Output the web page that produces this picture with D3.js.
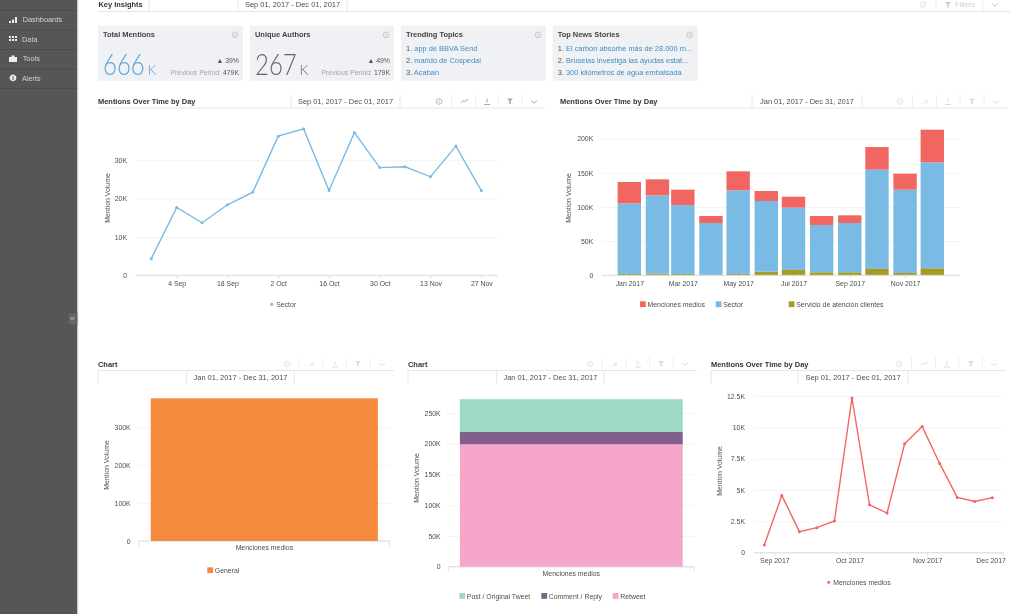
<!DOCTYPE html>
<html>
<head>
<meta charset="utf-8">
<script src="https://cdn.jsdelivr.net/npm/d3@7"></script>
<style>
  body { margin: 0; background: #fff; overflow: hidden; }
  text { font-family: "Liberation Sans", Arial, sans-serif; }
  #page { filter: blur(0.3px); }
</style>
</head>
<body>
<svg id="page" width="1024" height="614"></svg>
<script>
// chart values
var weeks = ['2017-08-28','2017-09-04','2017-09-11','2017-09-18','2017-09-25','2017-10-02','2017-10-09',
  '2017-10-16','2017-10-23','2017-10-30','2017-11-06','2017-11-13','2017-11-20','2017-11-27'];
var sectorWeekly = [4350,17700,13700,18400,21700,36300,38200,22100,37200,28100,28300,25700,33700,22100];
var mediosWeekly = [610,4570,1680,2000,2530,12340,3820,3160,8690,10070,7120,4410,4090,4390];

var months = ['2017-01-01','2017-02-01','2017-03-01','2017-04-01','2017-05-01','2017-06-01',
  '2017-07-01','2017-08-01','2017-09-01','2017-10-01','2017-11-01','2017-12-01'];
var servicioMonthly = [2000,2400,2000,500,2000,5400,7800,4400,4400,9300,3400,10200];
var sectorMonthly = [103400,114600,100900,76100,122400,103400,91200,69300,72200,145300,122000,155200];
var mediosMonthly = [31200,23500,22500,10200,27800,14600,16100,13100,11200,33200,23400,47800];

var generalTotal = [376500];
var retweetTotal = [199000];
var commentTotal = [20600];
var postTotal = [52800];

var sectorWeekTicks = ['2017-09-04','2017-09-18','2017-10-02','2017-10-16','2017-10-30','2017-11-13','2017-11-27'];
var monthTicks = ['2017-01-01','2017-03-01','2017-05-01','2017-07-01','2017-09-01','2017-11-01'];
var mediosMonthTicks = ['2017-09-01','2017-10-01','2017-11-01','2017-12-01'];

var navItems = ['Dashboards','Data','Tools','Alerts'];
var trendingTopics = ['app de BBVA Send','marido de Cospedal','Acaban'];
var newsStories = ['El carbón absorbe más de 28.000 m...','Bruselas investiga las ayudas estat...','300 kilómetros de agua embalsada'];

var BLUE = '#7abbe5', RED = '#f26662', OLIVE = '#a89a1c', ORANGE = '#f58a3f',
    MINT = '#9ed8c6', PURPLE = '#82608c', PINK = '#f5a6c9';
var INK = '#4d4d4d', GRID = '#f3f4f7', AXIS = '#d5dfea', RULE = '#e6e6e6';
var HEAD = 7.45, TICK = 6.9;

var parseDay = d3.timeParse('%Y-%m-%d');
var page = d3.select('#page');

function kLabel(d) { return d === 0 ? '0' : (d / 1000) + 'K'; }

function label(parent, x, y, str, size, fill, anchor, weight) {
  return parent.append('text').attr('x', x).attr('y', y).text(str)
    .attr('font-size', size).attr('fill', fill)
    .attr('text-anchor', anchor || 'start')
    .attr('font-weight', weight || 'normal')
    .attr('dominant-baseline', 'central');
}

function helpIcon(x, y, col) {
  page.append('circle').attr('cx', x).attr('cy', y).attr('r', 2.8)
    .attr('fill', 'none').attr('stroke', col || '#bbb').attr('stroke-width', 0.8);
  page.append('rect').attr('x', x - 0.5).attr('y', y - 0.8).attr('width', 1).attr('height', 2).attr('fill', col || '#bbb');
}

// ---- sidebar
page.append('rect').attr('width', 77).attr('height', 614).attr('fill', '#565656');
page.append('rect').attr('x', 77).attr('width', 1.2).attr('height', 614).attr('fill', '#c9c9c9');
d3.range(5).forEach(function (i) {
  page.append('rect').attr('x', 0).attr('y', 10.2 + i * 19.5).attr('width', 77).attr('height', 0.8).attr('fill', '#494949');
});
var navIcons = [
  'M9 21h2v2h-2zM12 19.5h2v3.5h-2zM15 17h2v6h-2z',
  'M9 36h2v2h-2zM12 36h2v2h-2zM15 36h2v2h-2zM9 39h2v2h-2zM12 39h2v2h-2zM15 39h2v2h-2z',
  'M9 57h8v5h-8zM11.5 55.5h3v1.5h-3z',
  'M13 74.5a3.4 3.4 0 1 0 0.01 0z'
];
navItems.forEach(function (name, i) {
  var y = 19.8 + i * 19.5;
  label(page, i % 2 ? 22 : 22.7, y, name, 7.35, '#d2d2d2');
  page.append('path').attr('d', navIcons[i]).attr('fill', '#eee');
});
page.append('rect').attr('x', 12.5).attr('y', 76).attr('width', 1).attr('height', 4).attr('fill', '#565656');
page.append('rect').attr('x', 68).attr('y', 313).attr('width', 9).attr('height', 12).attr('fill', '#666').attr('stroke', '#4c4c4c').attr('stroke-width', 0.6);
label(page, 72.5, 318.5, '«', 8, '#bbb', 'middle');

// ---- top bar
label(page, 98.5, 4.6, 'Key Insights', HEAD, '#333', 'start', 'bold');
label(page, 245, 4.6, 'Sep 01, 2017 - Dec 01, 2017', HEAD, INK);
page.append('line').attr('x1', 98).attr('x2', 1010).attr('y1', 11.5).attr('y2', 11.5).attr('stroke', RULE);
[149, 238, 347].forEach(function (x) {
  page.append('line').attr('x1', x).attr('x2', x).attr('y1', 0).attr('y2', 11.5).attr('stroke', RULE);
});
helpIcon(923, 4.6, '#ddd');
label(page, 955, 4.6, 'Filters', HEAD, '#ccc');
[936, 983].forEach(function (x) {
  page.append('line').attr('x1', x).attr('x2', x).attr('y1', 0).attr('y2', 11).attr('stroke', '#eee');
});
page.append('path').attr('d', 'M945 2h6l-2.2 2.6v3h-1.6v-3z').attr('fill', '#ccc');
page.append('path').attr('d', 'M992 3.5l3 2.5l3-2.5').attr('fill', 'none').attr('stroke', '#ccc');

// ---- insight cards
function card(x, w, title) {
  page.append('rect').attr('x', x).attr('y', 25.7).attr('width', w).attr('height', 55).attr('fill', '#f0f1f4');
  label(page, x + 5, 34.5, title, HEAD, '#444', 'start', 'bold');
  helpIcon(x + w - 8, 34.8);
}
function statCard(x, w, title, big, col, pct, prev) {
  card(x, w, title);
  var right = x + w - 4;
  // the big figure is narrower than any installed light face, so squeeze it sideways
  page.append('text').attr('transform', 'translate(' + (x + 5) + ',75) scale(0.8,1)').text(big)
    .attr('font-size', 30).attr('font-weight', 300).attr('fill', col).style('font-family', 'Lato');
  page.append('text').attr('x', x + 49.5).attr('y', 75).text('K')
    .attr('font-size', 14).attr('font-weight', 300).attr('fill', col).style('font-family', 'Lato');
  label(page, right, 60.5, '▲ ' + pct, 6.9, '#555', 'end');
  var t = label(page, right, 72, '', 6.9, '#a5a5a5', 'end');
  t.append('tspan').text('Previous Period: ');
  t.append('tspan').attr('fill', '#555').text(prev);
}
function listCard(x, w, title, items) {
  card(x, w, title);
  items.forEach(function (s, i) {
    var t = label(page, x + 5, 47.7 + i * 12, '', HEAD, '#555');
    t.append('tspan').text((i + 1) + '. ');
    t.append('tspan').attr('fill', '#3d8fc4').text(s);
  });
}
statCard(98, 145, 'Total Mentions', '666', '#5ba4d6', '39%', '479K');
statCard(250, 144, 'Unique Authors', '267', '#666', '49%', '179K');
listCard(401, 145, 'Trending Topics', trendingTopics);
listCard(552.7, 145, 'Top News Stories', newsStories);

// ---- panel headers
function panelHeader(opts) {
  var lineY = opts.y + 6.5;
  label(page, opts.x0, opts.y, opts.title, HEAD, '#333', 'start', 'bold');
  page.append('line').attr('x1', opts.x0).attr('x2', opts.x1).attr('y1', lineY).attr('y2', lineY).attr('stroke', RULE);
  var dy = opts.stacked ? 13 : 0;
  var top = opts.stacked ? lineY : opts.y - 7;
  var bot = opts.stacked ? lineY + 13 : lineY;
  [opts.d0, opts.d1].concat(opts.stacked ? [opts.x0] : []).forEach(function (x) {
    page.append('line').attr('x1', x).attr('x2', x).attr('y1', top).attr('y2', bot).attr('stroke', RULE);
  });
  label(page, (opts.d0 + opts.d1) / 2, opts.y + dy, opts.range, HEAD, INK, 'middle');
  var col = opts.faint ? '#ddd' : '#aaa';
  var ic = opts.icons;
  helpIcon(ic[0], opts.y, col);
  page.append('path').attr('fill', 'none').attr('stroke', col)
    .attr('d', opts.lineIcon ? 'M' + (ic[1] - 3.5) + ' ' + (opts.y + 1.5) + 'l2.5 -2.5l2 1l3 -2.5' : 'M' + (ic[1] - 3) + ' ' + (opts.y + 2) + 'h1M' + ic[1] + ' ' + (opts.y + 2) + 'v-3M' + (ic[1] + 2) + ' ' + (opts.y + 2) + 'v-4');
  page.append('path').attr('fill', 'none').attr('stroke', col)
    .attr('d', 'M' + ic[2] + ' ' + (opts.y - 3) + 'v4M' + (ic[2] - 3) + ' ' + (opts.y + 3) + 'h6');
  page.append('path').attr('fill', col)
    .attr('d', 'M' + (ic[3] - 3) + ' ' + (opts.y - 3) + 'h6l-2.2 2.6v3h-1.6v-3z');
  page.append('path').attr('fill', 'none').attr('stroke', col)
    .attr('d', 'M' + (ic[4] - 3) + ' ' + (opts.y - 1) + 'l3 2.5l3 -2.5');
  ic.slice(0, 4).forEach(function (x, i) {
    var mid = (x + ic[i + 1]) / 2;
    page.append('line').attr('x1', mid).attr('x2', mid).attr('y1', opts.y - 7).attr('y2', lineY).attr('stroke', '#f0f0f0');
  });
}
var DAYS = 'Sep 01, 2017 - Dec 01, 2017', YEAR = 'Jan 01, 2017 - Dec 31, 2017';
panelHeader({ x0: 98, x1: 545, y: 101.5, title: 'Mentions Over Time by Day', range: DAYS, d0: 291, d1: 400, icons: [439, 464, 487, 510, 534], lineIcon: true });
panelHeader({ x0: 560, x1: 1007, y: 101.5, title: 'Mentions Over Time by Day', range: YEAR, d0: 752, d1: 862, icons: [900, 925, 948, 972, 996], faint: true });
panelHeader({ x0: 98, x1: 394, y: 364, title: 'Chart', range: YEAR, d0: 186.7, d1: 294.3, icons: [287, 311, 335, 358, 382], stacked: true, faint: true });
panelHeader({ x0: 408, x1: 697, y: 364, title: 'Chart', range: YEAR, d0: 496.7, d1: 604, icons: [590, 614, 638, 661, 685], stacked: true, faint: true });
panelHeader({ x0: 711, x1: 1006, y: 364, title: 'Mentions Over Time by Day', range: DAYS, d0: 798, d1: 908, icons: [899, 924, 947, 971, 994], stacked: true, lineIcon: true, faint: true });

// ---- shared axis frame
function frame(opts) {
  var y = d3.scaleLinear().domain(opts.yDomain).range(opts.yRange);
  var g = page.append('g');
  g.append('g').attr('transform', 'translate(' + opts.left + ',0)')
    .call(d3.axisRight(y).tickValues(opts.yTicks).tickSize(opts.right - opts.left).tickFormat(''))
    .call(function (s) {
      s.select('.domain').remove();
      s.selectAll('line').attr('stroke', GRID);
    });
  g.append('g').attr('transform', 'translate(' + opts.labelX + ',0)')
    .call(d3.axisLeft(y).tickValues(opts.yTicks).tickSize(0).tickPadding(0).tickFormat(opts.yFormat || kLabel))
    .call(function (s) {
      s.select('.domain').remove();
      s.selectAll('text').attr('font-size', TICK).attr('fill', INK)
        .style('font-family', '"Liberation Sans", Arial, sans-serif');
    });
  label(g, 0, 0, 'Mention Volume', TICK, INK, 'middle')
    .attr('transform', 'translate(' + opts.titleX + ',' + opts.titleY + ') rotate(-90)');
  return y;
}
function baseLine(opts, y0) {
  page.append('line').attr('x1', opts.left).attr('x2', opts.right).attr('y1', y0).attr('y2', y0).attr('stroke', AXIS);
}
function timeAxis(x, y0, ticks, fmt) {
  var g = page.append('g').attr('transform', 'translate(0,' + y0 + ')')
    .call(d3.axisBottom(x).tickValues(ticks.map(parseDay)).tickSize(3).tickPadding(2.5).tickFormat(d3.timeFormat(fmt)));
  g.select('.domain').remove();
  g.selectAll('line').attr('stroke', AXIS);
  g.selectAll('text').attr('font-size', TICK).attr('fill', INK)
    .style('font-family', '"Liberation Sans", Arial, sans-serif');
  return g;
}
function legend(y, items) {
  items.forEach(function (it) {
    if (it.dot) {
      page.append('circle').attr('cx', it.x + 1.5).attr('cy', y).attr('r', 1.5).attr('fill', it.color);
      label(page, it.x + 6, y, it.name, TICK, INK);
    } else {
      page.append('rect').attr('x', it.x).attr('y', y - 3).attr('width', 5.8).attr('height', 5.8).attr('fill', it.color);
      label(page, it.x + 7.5, y, it.name, TICK, INK);
    }
  });
}
function lineSeries(x, y, values, color) {
  var days = weeks.map(parseDay);
  var line = d3.line().x(function (d, i) { return x(days[i]); }).y(function (d) { return y(d); });
  page.append('path').datum(values).attr('d', line).attr('fill', 'none').attr('stroke', color).attr('stroke-width', 1.4);
  page.append('g').selectAll('circle').data(values).join('circle')
    .attr('cx', function (d, i) { return x(days[i]); })
    .attr('cy', function (d) { return y(d); })
    .attr('r', 1.5).attr('fill', color);
}

// ---- weekly Sector line
var f1 = { left: 135.3, right: 498, labelX: 127, titleX: 107.3, titleY: 198,
  yDomain: [0, 30000], yRange: [275.3, 160.3], yTicks: [0, 10000, 20000, 30000] };
var y1 = frame(f1);
baseLine(f1, 275.3);
var x1 = d3.scaleTime().domain([parseDay(weeks[0]), parseDay(weeks[13])]).range([151.3, 481.3]);
timeAxis(x1, 275.3, sectorWeekTicks, '%-d %b');
lineSeries(x1, y1, sectorWeekly, BLUE);
legend(304.3, [{ x: 270.2, name: 'Sector', color: BLUE, dot: true }]);

// ---- monthly stacked bars
var f2 = { left: 601.7, right: 960, labelX: 593.3, titleX: 568.7, titleY: 198,
  yDomain: [0, 200000], yRange: [275.3, 138.7], yTicks: [0, 50000, 100000, 150000, 200000] };
var y2 = frame(f2);
var x2 = d3.scaleTime().domain([parseDay(months[0]), parseDay(months[11])]).range([629.3, 932.3]);
var barRows = months.map(function (m, i) {
  return { month: parseDay(m), servicio: servicioMonthly[i], sector: sectorMonthly[i], medios: mediosMonthly[i] };
});
var stack2 = d3.stack().keys(['servicio', 'sector', 'medios'])(barRows);
var colors2 = { servicio: OLIVE, sector: BLUE, medios: RED };
page.append('g').selectAll('g').data(stack2).join('g').attr('fill', function (s) { return colors2[s.key]; })
  .selectAll('rect').data(function (s) { return s; }).join('rect')
  .attr('x', function (d) { return x2(d.data.month) - 11.7; })
  .attr('width', 23.4)
  .attr('y', function (d) { return y2(d[1]); })
  .attr('height', function (d) { return y2(d[0]) - y2(d[1]); });
baseLine(f2, 275.3);
timeAxis(x2, 275.3, monthTicks, '%b %Y');
legend(304.3, [
  { x: 640, name: 'Menciones medios', color: RED },
  { x: 715.7, name: 'Sector', color: BLUE },
  { x: 788.7, name: 'Servicio de atención clientes', color: OLIVE }
]);

// ---- single category bars
function categoryAxis(f, y0, labelY) {
  var x = d3.scaleBand().domain(['Menciones medios']).range([f.left, f.right]).paddingInner(0).paddingOuter(0.052);
  var g = page.append('g').attr('transform', 'translate(0,' + y0 + ')')
    .call(d3.axisBottom(x).tickSize(0).tickPadding(labelY - y0 - 1));
  g.select('.domain').attr('stroke', AXIS).attr('d', 'M' + f.left + ',5V0H' + f.right + 'V5');
  g.selectAll('text').attr('font-size', TICK).attr('fill', INK)
    .style('font-family', '"Liberation Sans", Arial, sans-serif');
  return x;
}
function stackedColumn(f, x, y, rows) {
  var base = 0;
  rows.forEach(function (r) {
    page.append('rect').attr('x', x('Menciones medios')).attr('width', x.bandwidth())
      .attr('y', y(base + r.value)).attr('height', y(base) - y(base + r.value)).attr('fill', r.color);
    base += r.value;
  });
}

var f3 = { left: 139, right: 389.7, labelX: 130.7, titleX: 106.7, titleY: 465,
  yDomain: [0, 300000], yRange: [541, 427.3], yTicks: [0, 100000, 200000, 300000] };
var y3 = frame(f3);
var x3 = categoryAxis(f3, 541, 546);
stackedColumn(f3, x3, y3, [{ value: generalTotal[0], color: ORANGE }]);
legend(570.3, [{ x: 207.3, name: 'General', color: ORANGE }]);

var f4 = { left: 448.3, right: 694.3, labelX: 440.7, titleX: 416.7, titleY: 478,
  yDomain: [0, 250000], yRange: [566.7, 413], yTicks: [0, 50000, 100000, 150000, 200000, 250000] };
var y4 = frame(f4);
var x4 = categoryAxis(f4, 566.7, 571.7);
stackedColumn(f4, x4, y4, [
  { value: retweetTotal[0], color: PINK },
  { value: commentTotal[0], color: PURPLE },
  { value: postTotal[0], color: MINT }
]);
legend(596, [
  { x: 459.3, name: 'Post / Original Tweet', color: MINT },
  { x: 541.3, name: 'Comment / Reply', color: PURPLE },
  { x: 612.7, name: 'Retweet', color: PINK }
]);

// ---- weekly Menciones medios line
var f5 = { left: 754, right: 1003.7, labelX: 745, titleX: 719.3, titleY: 471,
  yDomain: [0, 12500], yRange: [552.7, 396], yTicks: [0, 2500, 5000, 7500, 10000, 12500] };
var y5 = frame(f5);
baseLine(f5, 552.7);
var x5 = d3.scaleTime().domain([parseDay(weeks[0]), parseDay(weeks[13])]).range([764.3, 992.3]);
var axis5 = timeAxis(x5, 552.7, mediosMonthTicks, '%b %Y');
axis5.selectAll('.tick:last-child text').attr('text-anchor', 'end').attr('x', 3);
lineSeries(x5, y5, mediosWeekly, RED);
legend(582.3, [{ x: 827.2, name: 'Menciones medios', color: RED, dot: true }]);
</script>
</body>
</html>
